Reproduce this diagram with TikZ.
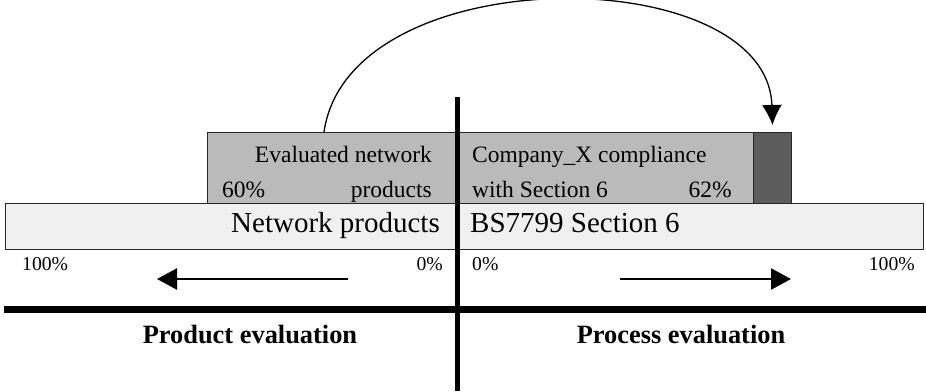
\documentclass[tikz,border=0pt]{standalone}
\usepackage{fontspec}
\setmainfont{Liberation Serif}
\usetikzlibrary{arrows.meta, positioning}
\definecolor{bargray}{HTML}{bababa}
\definecolor{bardark}{HTML}{5c5c5c}
\definecolor{barlight}{HTML}{f0f0f0}

\begin{document}
\begin{tikzpicture}[x=1pt, y=-1pt,
	bar/.style={draw=black!85, line width=1pt, inner sep=0pt, anchor=north west},
	lbl/.style={font=\fontsize{23.5}{26}\selectfont, inner sep=0pt},
	tick/.style={font=\fontsize{19.7}{22}\selectfont, inner sep=0pt},
	big/.style={font=\fontsize{29}{32}\selectfont, inner sep=0pt},
	side/.style={font=\fontsize{26.4}{29}\selectfont\bfseries, inner sep=0pt, anchor=base},
	dirarrow/.style={-{Triangle[length=20pt,width=21pt]}, line width=2.5pt}]
	\useasboundingbox (0,0) rectangle (926,391);
	% bars
	\node[bar, fill=barlight, minimum width=918pt, minimum height=46pt] (scalebar) at (5,203) {};
	\node[bar, fill=bargray, minimum width=546pt, minimum height=71pt] (evalbar) at (207,132) {};
	\node[bar, fill=bardark, minimum width=38pt, minimum height=71pt] (gapbar) at (753,132) {};
	% axes
	\draw[line width=5pt] (457,97) -- (457,391);
	\draw[line width=7pt] (4,309.5) -- (926,309.5);
	% texts in the bars
	\node[lbl, anchor=base east] (evaltop) at (432,162) {Evaluated network};
	\node[lbl, anchor=base east] (evalbot) at (432,197) {products};
	\node[lbl, anchor=base west] (evalpct) at (222,197) {60\%};
	\node[lbl, anchor=base west] (comptop) at (472,162) {Company\_X compliance};
	\node[lbl, anchor=base west] (compbot) at (472,197) {with Section 6};
	\node[lbl, anchor=base east] (comppct) at (732,197) {62\%};
	\node[big, anchor=base east] (netprod) at (440,232) {Network products};
	\node[big, anchor=base west] (bssect) at (470,232) {BS7799 Section 6};
	% percentages
	\node[tick, anchor=base west] (lmax) at (22,270) {100\%};
	\node[tick, anchor=base east] (lzero) at (443,270) {0\%};
	\node[tick, anchor=base west] (rzero) at (472,270) {0\%};
	\node[tick, anchor=base east] (rmax) at (915,270) {100\%};
	% directions
	\coordinate (ltail) at (348,279);
	\coordinate (lhead) at (157,279);
	\coordinate (rtail) at (620,279);
	\coordinate (rhead) at (791,279);
	\draw[dirarrow] (ltail) -- (lhead);
	\draw[dirarrow] (rtail) -- (rhead);
	\node[side] (prodeval) at (250,343) {Product evaluation};
	\node[side] (proceval) at (681,343) {Process evaluation};
	% transfer arrow
	\draw[-{Latex[length=20pt,width=20pt]}, line width=1.3pt]
		([xshift=117pt]evalbar.north west) .. controls +(25,-175) and +(-5,-165) .. ([yshift=7pt]gapbar.north);
\end{tikzpicture}
\end{document}
